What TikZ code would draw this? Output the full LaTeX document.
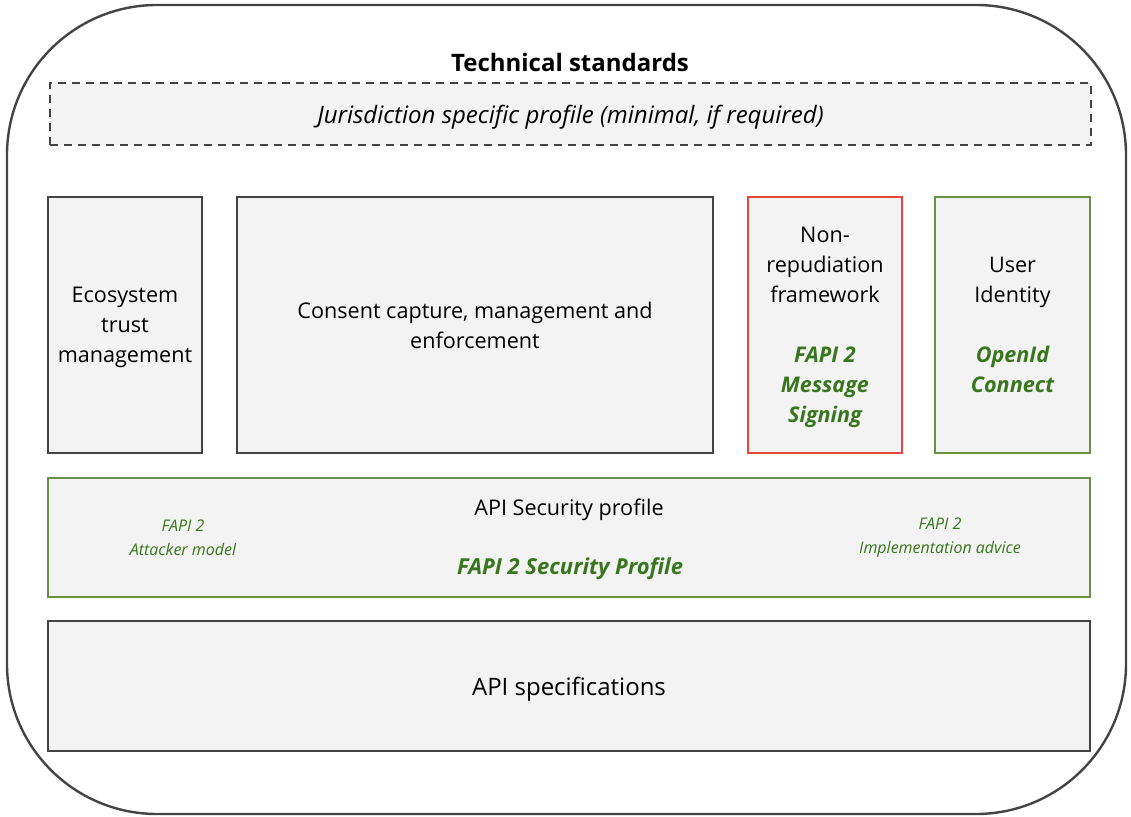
\documentclass[tikz,border=0pt]{standalone}
\usepackage{fontspec}
\setmainfont{Open Sans}
\definecolor{boxfill}{HTML}{F3F3F3}
\definecolor{boxline}{HTML}{444444}
\definecolor{fapigreen}{HTML}{38761D}
\definecolor{greenline}{HTML}{6A8F4A}
\definecolor{redline}{HTML}{E8463C}
\newcommand{\fapitext}[1]{\textcolor{fapigreen}{\bfseries\itshape #1}}

\begin{document}
\begin{tikzpicture}[x=0.5pt,y=-0.5pt,line width=1pt,
  box/.style={draw=boxline,fill=boxfill,align=center,font=\fontsize{10.8}{15}\selectfont,inner sep=0pt},
  fapi/.style={text=fapigreen,font=\fontsize{11}{15}\selectfont\bfseries\itshape},
  note/.style={text=fapigreen,align=center,font=\fontsize{8}{12}\selectfont\itshape}]
\useasboundingbox (0,0) rectangle (1131,817);
% outer frame
\draw[boxline,line width=1.2pt,rounded corners=75pt] (7,5) rectangle (1126,814);
\node[font=\fontsize{12}{14}\selectfont\bfseries] (title) at (570,63) {Technical standards};
\node[box,dashed,dash pattern=on 4pt off 3pt,minimum width=520.5pt,minimum height=31pt,
  font=\fontsize{12}{15}\selectfont\itshape] (jur) at (570.5,114) {};
\node[font=\fontsize{12}{15}\selectfont\itshape] (jurtext) at (570.5,117) {Jurisdiction specific profile (minimal, if required)};

% middle row
\node[box,minimum width=77pt,minimum height=128pt,text depth=-3pt] (eco) at (125,325) {Ecosystem\\trust\\management};
\node[box,minimum width=238pt,minimum height=128pt,text depth=-3pt] (consent) at (475,325) {Consent capture, management and\\enforcement};
\node[box,draw=redline,minimum width=77pt,minimum height=128pt,text depth=-3pt] (nonrep) at (825,325)
  {Non-\\repudiation\\framework\\[15pt]\fapitext{FAPI 2}\\\fapitext{Message}\\\fapitext{Signing}};
\node[box,draw=greenline,minimum width=77.5pt,minimum height=128pt,text depth=-3pt] (user) at (1012.5,325)
  {User\\Identity\\[15pt]\fapitext{OpenId}\\\fapitext{Connect}};

% security profile
\node[box,draw=greenline,minimum width=521pt,minimum height=59.5pt] (sec) at (569,537.5) {};
\node[font=\fontsize{10.8}{15}\selectfont] (sectitle) at (569,510) {API Security profile};
\node[fapi] (secfapi) at (570,569) {FAPI 2 Security Profile};
\node[note] (attack) at (183,538) {FAPI 2\\Attacker model};
\node[note] (impl) at (940,538) {FAPI 2\\Implementation advice};

% api specifications
\node[box,minimum width=521pt,minimum height=65pt] (spec) at (569,686) {};
\node[font=\fontsize{12}{15}\selectfont] (spectext) at (569,689) {API specifications};
\end{tikzpicture}
\end{document}
